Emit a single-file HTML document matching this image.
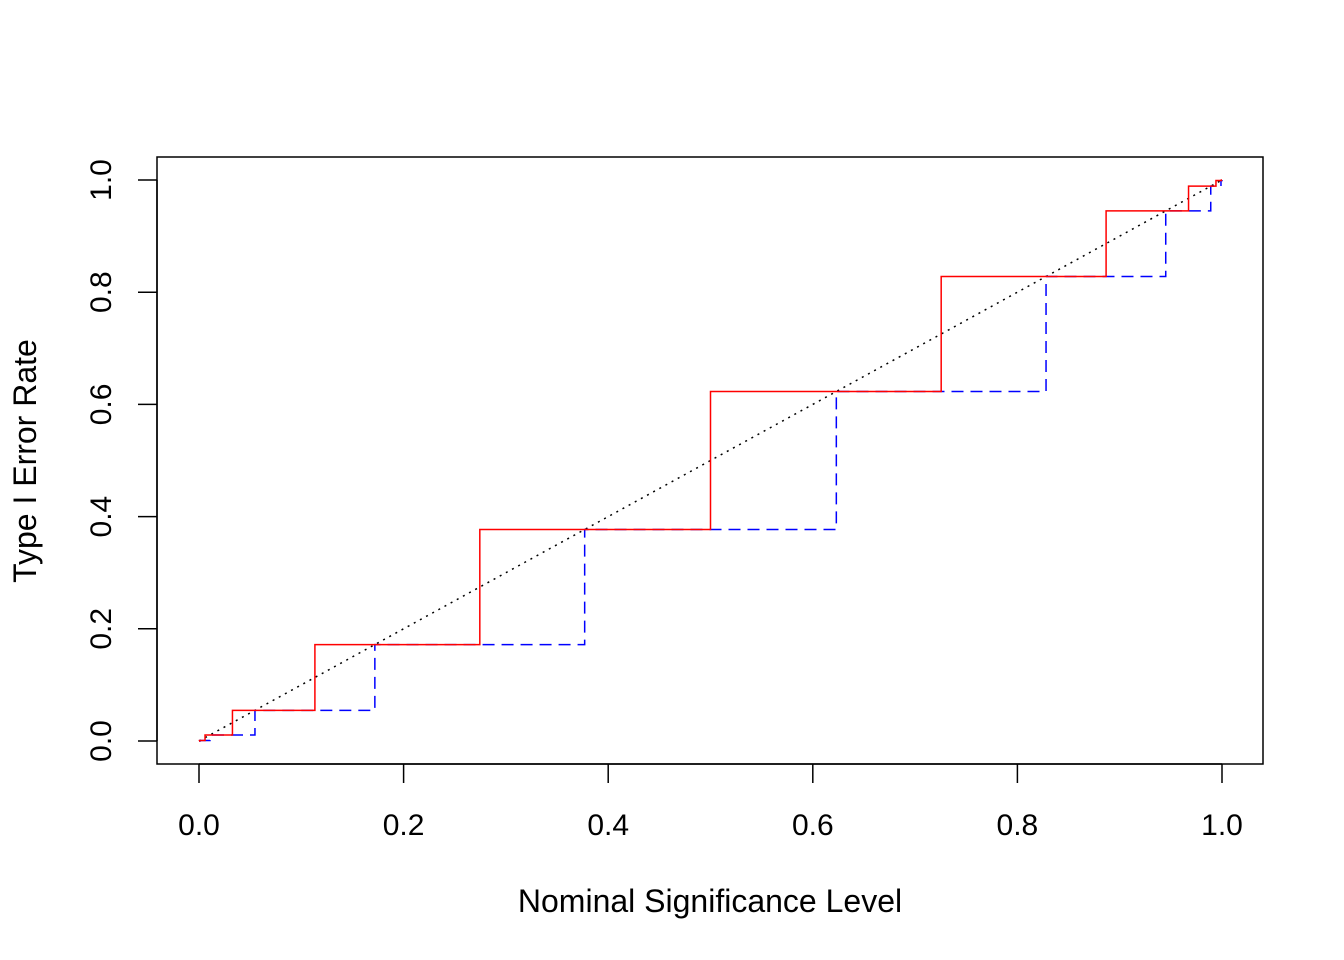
<!DOCTYPE html>
<html><head><meta charset="utf-8"><style>
html,body{margin:0;padding:0;background:#fff;}
svg{display:block;font-family:"Liberation Sans",Arial,sans-serif;}
</style></head><body>
<svg id="chart" width="1344" height="960" viewBox="0 0 1344 960"></svg>
<script>
const levels = [0, 0.001, 0.0107, 0.0547, 0.1719, 0.377, 0.623, 0.828, 0.945, 0.989, 0.999, 1];
const redJumps = [0, 0.0005, 0.0059, 0.0327, 0.1133, 0.2745, 0.5, 0.7255, 0.8867, 0.9673, 0.9941, 0.9995];
const blueJumps = [0, 0.001, 0.0107, 0.0547, 0.1719, 0.377, 0.623, 0.828, 0.945, 0.989, 0.999, 1];
const xTicks = [0, 0.2, 0.4, 0.6, 0.8, 1.0];
const xTickLabels = ["0.0","0.2","0.4","0.6","0.8","1.0"];
const yTicks = [0, 0.2, 0.4, 0.6, 0.8, 1.0];
const yTickLabels = ["0.0","0.2","0.4","0.6","0.8","1.0"];

const NS = "http://www.w3.org/2000/svg";
const svg = document.getElementById('chart');
const X = v => 199 + v * 1023;
const Y = v => 741 - v * 561;
function el(tag, attrs, parent) {
  const e = document.createElementNS(NS, tag);
  for (const k in attrs) e.setAttribute(k, attrs[k]);
  (parent || svg).appendChild(e);
  return e;
}
const box = el('rect', {x:157, y:157, width:1106, height:607, fill:'none', stroke:'#000', 'stroke-width':1.5});



const xa = el('g', {});


el('line', {x1:X(xTicks[0]), x2:X(xTicks[xTicks.length-1]), y1:764, y2:764, stroke:'#000','stroke-width':1.5}, xa);
xTicks.forEach((t,i) => {
  el('line', {x1:X(t), x2:X(t), y1:764, y2:783, stroke:'#000','stroke-width':1.5}, xa);
  const tx = el('text', {x:X(t), y:835, 'text-anchor':'middle','font-size':30}, xa);
  tx.textContent = xTickLabels[i];
  
  
});
const ya = el('g', {});


el('line', {x1:157, x2:157, y1:Y(yTicks[0]), y2:Y(yTicks[yTicks.length-1]), stroke:'#000','stroke-width':1.5}, ya);
yTicks.forEach((t,i) => {
  el('line', {x1:138, x2:157, y1:Y(t), y2:Y(t), stroke:'#000','stroke-width':1.5}, ya);
  const tx = el('text', {x:0, y:0, 'text-anchor':'middle','font-size':30, transform:`translate(111,${Y(t)}) rotate(-90)`}, ya);
  tx.textContent = yTickLabels[i];
  
  
});
const xt = el('text', {x:710, y:912, 'text-anchor':'middle','font-size':32});
xt.textContent = 'Nominal Significance Level';


const yt = el('text', {x:0, y:0, 'text-anchor':'middle','font-size':32, transform:'translate(36,461) rotate(-90)'});
yt.textContent = 'Type I Error Rate';



const diag = el('line', {x1:X(0), y1:Y(0), x2:X(1), y2:Y(1), stroke:'#000','stroke-width':1.5,'stroke-dasharray':'2 5'});



function stepPath(jumps) {
  let d = `M${X(jumps[0])},${Y(levels[0])}`;
  for (let i = 1; i < jumps.length; i++) {
    d += ` H${X(jumps[i])} V${Y(levels[i])}`;
  }
  d += ` H${X(1)}`;
  return d;
}
const blue = el('path', {d:stepPath(blueJumps), fill:'none', stroke:'#0000ff','stroke-width':1.5,'stroke-dasharray':'12 7'});


const red = el('path', {d:stepPath(redJumps), fill:'none', stroke:'#ff0000','stroke-width':1.5});


</script>
</body></html>
